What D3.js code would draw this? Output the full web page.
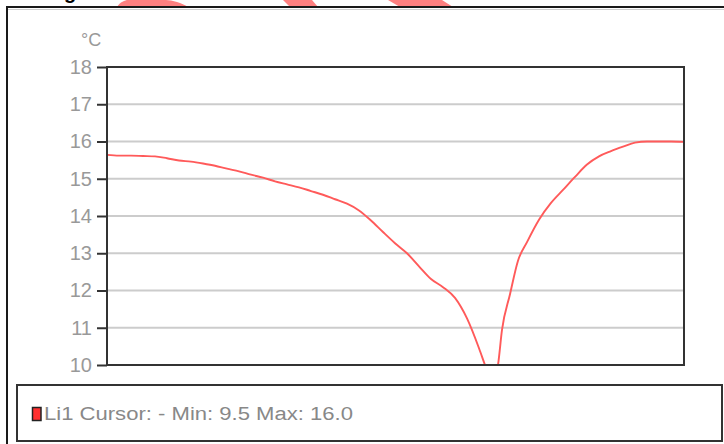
<!DOCTYPE html>
<html>
<head>
<meta charset="utf-8">
<script src="https://cdn.jsdelivr.net/npm/d3@7"></script>
<style>
  html, body { margin: 0; padding: 0; background: #fff; }
  svg { display: block; }
</style>
</head>
<body>
<svg id="chart" width="724" height="444"></svg>
<script>
// Cursor position along the trace (arbitrary sample units) and temperature in °C
const samplePos = [0, 12, 24, 36, 48, 60, 72, 84, 96, 108, 120, 132, 144, 156, 168, 180,
  192, 204, 216, 228, 240, 252, 264, 276, 288, 300, 312, 324, 336, 348, 360, 372,
  378, 385, 391, 395, 403, 411, 420, 432, 444, 456, 468, 480, 492, 504, 516, 528,
  540, 552, 564, 577];
const temperature = [15.64, 15.62, 15.62, 15.61, 15.60, 15.55, 15.49, 15.46, 15.41, 15.35,
  15.27, 15.20, 15.11, 15.03, 14.93, 14.85, 14.77, 14.67, 14.57, 14.45, 14.33, 14.15,
  13.88, 13.57, 13.27, 13.00, 12.65, 12.31, 12.09, 11.80, 11.25, 10.45,
  10.00, 9.50, 10.00, 10.94, 11.90, 12.80, 13.30, 13.90, 14.35, 14.70, 15.05, 15.38,
  15.60, 15.74, 15.86, 15.97, 16.00, 16.00, 16.00, 15.99];
const yTicks = [10, 11, 12, 13, 14, 15, 16, 17, 18];
const unitLabel = "°C";
const seriesName = "Li1";
const legendText = "Li1 Cursor: - Min: 9.5 Max: 16.0";

const svg = d3.select("#chart");

// decorative red header shapes peeking above the frame
const deco = [
  "M117,7 C120,2 125,0 128,0 L166,0 C172,0 182,3 188,7 Z",
  "M283,0 L312,0 L318,7 L290,7 Z",
  "M388,0 L442,0 L453,7 L400,7 Z"
];
svg.selectAll("path.deco").data(deco).join("path")
  .attr("class", "deco").attr("d", d => d).attr("fill", "#ff8080");

// title descender visible above the frame
svg.append("text").attr("x", 64).attr("y", -1)
  .attr("font-family", "Liberation Sans, Arial, sans-serif")
  .attr("font-weight", "bold").attr("font-size", 20).attr("fill", "#000")
  .text("g");

// outer frame
svg.append("rect").attr("x", 7).attr("y", 7).attr("width", 740).attr("height", 460)
  .attr("fill", "#fff").attr("stroke", "#1a1a1a").attr("stroke-width", 2);
svg.append("line").attr("x1", 8).attr("x2", 724).attr("y1", 9.5).attr("y2", 9.5)
  .attr("stroke", "#cfcfcf").attr("stroke-width", 1);

const plot = { left: 107, top: 67, right: 684, bottom: 365 };

const x = d3.scaleLinear().domain([0, 577]).range([plot.left, plot.right]);
const y = d3.scaleLinear().domain([10, 18]).range([plot.bottom, plot.top]);

// grid lines
svg.append("g").selectAll("line").data(yTicks.filter(t => t > 10 && t < 18)).join("line")
  .attr("x1", plot.left).attr("x2", plot.right)
  .attr("y1", d => y(d)).attr("y2", d => y(d))
  .attr("stroke", "#cccccc").attr("stroke-width", 2);

// y axis
const yAxis = d3.axisLeft(y).tickValues(yTicks).tickSize(10).tickPadding(5)
  .tickFormat(d3.format("d"));
const gy = svg.append("g").attr("transform", `translate(${plot.left},0)`).call(yAxis);
gy.select(".domain").remove();
gy.selectAll(".tick line").attr("stroke", "#333").attr("stroke-width", 2);
gy.selectAll(".tick text").attr("fill", "#999")
  .attr("font-family", "Liberation Sans, Arial, sans-serif").attr("font-size", 20);

svg.append("text").attr("x", 81).attr("y", 46)
  .attr("font-family", "Liberation Sans, Arial, sans-serif").attr("font-size", 18)
  .attr("fill", "#999").text(unitLabel);

// trace clipped to the plot area
svg.append("clipPath").attr("id", "plotClip").append("rect")
  .attr("x", plot.left).attr("y", plot.top)
  .attr("width", plot.right - plot.left).attr("height", plot.bottom - plot.top);

const data = samplePos.map((p, i) => ({ p, v: temperature[i] }));
const line = d3.line().x(d => x(d.p)).y(d => y(d.v)).curve(d3.curveMonotoneX);
svg.append("path").datum(data).attr("clip-path", "url(#plotClip)")
  .attr("d", line).attr("fill", "none")
  .attr("stroke", "#ff5a5a").attr("stroke-width", 1.9);

// plot border
svg.append("rect").attr("x", plot.left).attr("y", plot.top)
  .attr("width", plot.right - plot.left).attr("height", plot.bottom - plot.top)
  .attr("fill", "none").attr("stroke", "#333").attr("stroke-width", 2);

// legend box
svg.append("rect").attr("x", 17).attr("y", 385).attr("width", 705).attr("height", 56)
  .attr("fill", "#fff").attr("stroke", "#333").attr("stroke-width", 2);
svg.append("rect").attr("x", 32.5).attr("y", 407.5).attr("width", 8.5).attr("height", 13)
  .attr("fill", "#ff3030").attr("stroke", "#222").attr("stroke-width", 1.5);
svg.append("text").attr("x", 44).attr("y", 420)
  .attr("font-family", "Liberation Sans, Arial, sans-serif").attr("font-size", 18)
  .attr("textLength", 309).attr("lengthAdjust", "spacingAndGlyphs")
  .attr("fill", "#888").text(legendText);
</script>
</body>
</html>
